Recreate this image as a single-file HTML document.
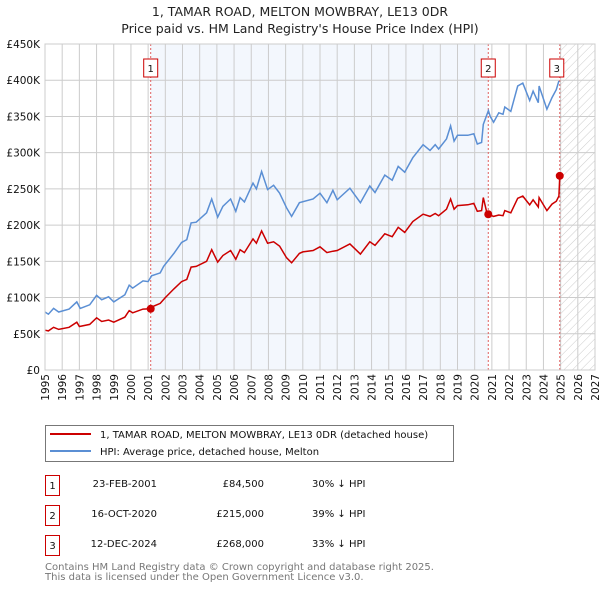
<!DOCTYPE html>
<html><head><meta charset="utf-8"><style>
body{margin:0;background:#fff;font-family:"DejaVu Sans","Liberation Sans",sans-serif;}
svg text{font-family:"DejaVu Sans","Liberation Sans",sans-serif;}
</style></head><body>
<svg id="chart" width="600" height="590" xmlns="http://www.w3.org/2000/svg">
<defs><pattern id="hatch" width="6" height="6" patternUnits="userSpaceOnUse" patternTransform="rotate(45)"><line x1="0" y1="0" x2="0" y2="6" stroke="#ccc" stroke-width="1"/></pattern></defs>
<text x="300" y="16" text-anchor="middle" font-size="12.5" fill="#222">1, TAMAR ROAD, MELTON MOWBRAY, LE13 0DR</text>
<text x="300" y="33" text-anchor="middle" font-size="12.5" fill="#222">Price paid vs. HM Land Registry's House Price Index (HPI)</text>
<g id="plot"></g>
<g>
<rect x="45.5" y="425.5" width="408" height="36" fill="#fff" stroke="#777"/>
<line x1="50" y1="434" x2="91" y2="434" stroke="#cc0000" stroke-width="2"/>
<text x="100" y="438" font-size="10" fill="#111">1, TAMAR ROAD, MELTON MOWBRAY, LE13 0DR (detached house)</text>
<line x1="50" y1="451" x2="91" y2="451" stroke="#5b8fd4" stroke-width="2"/>
<text x="100" y="455" font-size="10" fill="#111">HPI: Average price, detached house, Melton</text>
</g>
<g font-size="10" fill="#111">
<rect x="45.5" y="475.5" width="14" height="20" fill="none" stroke="#cc0000"/><text x="52.5" y="489" text-anchor="middle">1</text>
<text x="157" y="487" text-anchor="end">23-FEB-2001</text><text x="264" y="487" text-anchor="end">£84,500</text><text x="312" y="487">30% ↓ HPI</text>
<rect x="45.5" y="505.5" width="14" height="20" fill="none" stroke="#cc0000"/><text x="52.5" y="519" text-anchor="middle">2</text>
<text x="157" y="517" text-anchor="end">16-OCT-2020</text><text x="264" y="517" text-anchor="end">£215,000</text><text x="312" y="517">39% ↓ HPI</text>
<rect x="45.5" y="535.5" width="14" height="20" fill="none" stroke="#cc0000"/><text x="52.5" y="549" text-anchor="middle">3</text>
<text x="157" y="547" text-anchor="end">12-DEC-2024</text><text x="264" y="547" text-anchor="end">£268,000</text><text x="312" y="547">33% ↓ HPI</text>
</g>
<text x="45" y="570" font-size="10" fill="#777">Contains HM Land Registry data © Crown copyright and database right 2025.</text>
<text x="45" y="580" font-size="10" fill="#777">This data is licensed under the Open Government Licence v3.0.</text>
</svg>
<script>
const hpiYears=[1995.0,1995.2,1995.5,1995.8,1996.4,1996.85,1997.05,1997.6,1998.0,1998.3,1998.7,1999.0,1999.65,1999.9,2000.1,2000.7,2001.0,2001.2,2001.7,2001.9,2002.5,2002.95,2003.25,2003.5,2003.8,2004.4,2004.7,2005.05,2005.35,2005.8,2006.1,2006.35,2006.6,2007.1,2007.3,2007.6,2007.95,2008.3,2008.65,2009.05,2009.35,2009.8,2010.6,2011.0,2011.4,2011.75,2012.0,2012.74,2013.35,2013.9,2014.2,2014.77,2015.2,2015.55,2015.93,2016.4,2017.0,2017.4,2017.7,2017.9,2018.36,2018.6,2018.8,2019.0,2019.6,2019.95,2020.15,2020.4,2020.5,2020.8,2020.9,2021.1,2021.4,2021.65,2021.75,2022.1,2022.5,2022.8,2023.2,2023.4,2023.7,2023.75,2024.2,2024.5,2024.75,2024.9];
const hpiValues=[80,77,85,80,84,94,85,90,103,97,101,94,104,117,113,123,122,130,134,143,161,176,180,203,204,217,236,211,226,236,219,238,232,258,250,274,249,255,244,224,212,231,236,244,231,248,235,251,231,254,245,269,262,281,273,293,311,303,311,305,319,337,316,324,324,326,312,314,339,358,350,342,355,353,363,357,392,396,372,385,369,392,360,376,387,399];
const paidYears=[1995.0,1995.2,1995.5,1995.8,1996.4,1996.85,1997.0,1997.6,1998.0,1998.3,1998.7,1999.0,1999.65,1999.9,2000.1,2000.7,2001.15,2001.2,2001.7,2002.0,2002.5,2002.95,2003.25,2003.5,2003.8,2004.4,2004.7,2005.05,2005.35,2005.8,2006.1,2006.35,2006.6,2007.1,2007.3,2007.6,2007.95,2008.3,2008.65,2009.05,2009.35,2009.8,2010.0,2010.6,2011.0,2011.4,2011.75,2012.0,2012.74,2013.35,2013.9,2014.2,2014.77,2015.2,2015.55,2015.93,2016.4,2017.0,2017.4,2017.7,2017.9,2018.36,2018.6,2018.8,2019.0,2019.6,2019.95,2020.15,2020.4,2020.5,2020.7,2020.8,2021.1,2021.4,2021.65,2021.75,2022.1,2022.5,2022.8,2023.2,2023.4,2023.7,2023.75,2024.2,2024.5,2024.75,2024.9,2024.95];
const paidValues=[55,54,59,56,59,66,60,63,72,67,69,66,73,82,79,84,84.5,87,92,100,112,122,125,142,143,150,166,149,158,165,153,166,162,181,175,192,175,177,171,155,148,161,163,165,170,162,164,165,174,160,177,172,188,184,197,190,205,215,212,216,213,222,236,222,227,228,230,219,220,238,218,215,212,214,213,220,217,237,240,228,235,225,238,220,229,233,240,268];
const saleYears=[2001.15,2020.79,2024.95];
const saleValues=[84.5,215,268];
const saleLabels=["1","2","3"];
const yTicks=[0,50,100,150,200,250,300,350,400,450];
const yTickLabels=["£0","£50K","£100K","£150K","£200K","£250K","£300K","£350K","£400K","£450K"];
const xTicks=[1995,1996,1997,1998,1999,2000,2001,2002,2003,2004,2005,2006,2007,2008,2009,2010,2011,2012,2013,2014,2015,2016,2017,2018,2019,2020,2021,2022,2023,2024,2025,2026,2027];

const NS="http://www.w3.org/2000/svg";
const L=45,R=595,T=44,B=370;
const x=y=>L+(y-1995)/(2027-1995)*(R-L);
const y=v=>B-v/450*(B-T);
const g=document.getElementById('plot');
function mk(tag,attrs,parent){const e=document.createElementNS(NS,tag);for(const k in attrs)e.setAttribute(k,attrs[k]);(parent||g).appendChild(e);return e;}
let e;
e=mk('rect',{x:x(saleYears[0]),y:T,width:x(saleYears[1])-x(saleYears[0]),height:B-T,fill:'#eef3fc',opacity:0.7});


e=mk('rect',{x:x(2025),y:T,width:R-x(2025),height:B-T,fill:'url(#hatch)'});


xTicks.forEach(t=>{
 e=mk('line',{x1:x(t),x2:x(t),y1:T,y2:B,stroke:'#cccccc','stroke-width':1});
 
 
 e=mk('text',{transform:`translate(${x(t)+4},${B+4}) rotate(-90)`,'text-anchor':'end','font-size':10.5,fill:'#111'});
 e.textContent=t;
 
 
});
yTicks.forEach((t,i)=>{
 e=mk('line',{x1:L,x2:R,y1:y(t),y2:y(t),stroke:'#cccccc','stroke-width':1});
 
 
 e=mk('text',{x:L-5,y:y(t)+4,'text-anchor':'end','font-size':10.5,fill:'#111'});
 e.textContent=yTickLabels[i];
 
 
});
saleYears.forEach((s,i)=>{
 e=mk('line',{x1:x(s),x2:x(s),y1:T,y2:B,stroke:'#e06060','stroke-width':1,'stroke-dasharray':'2,2'});
 
 
 const bx=x(s)-(i==2?3:0);
 e=mk('rect',{x:bx-7,y:59,width:14,height:18,fill:'#fff',stroke:'#cc0000'});
 
 
 e=mk('text',{x:bx,y:72,'text-anchor':'middle','font-size':10,fill:'#111'});
 e.textContent=saleLabels[i];
 
 
});
const pts=(xs,vs)=>xs.map((t,i)=>x(t).toFixed(1)+','+y(vs[i]).toFixed(1)).join(' ');
e=mk('polyline',{points:pts(hpiYears,hpiValues),fill:'none',stroke:'#5b8fd4','stroke-width':1.5});


e=mk('polyline',{points:pts(paidYears,paidValues),fill:'none',stroke:'#cc0000','stroke-width':1.5});


saleYears.forEach((s,i)=>{
 e=mk('circle',{cx:x(s),cy:y(saleValues[i]),r:4,fill:'#cc0000'});
 
 
});
e=mk('rect',{x:L,y:T,width:R-L,height:B-T,fill:'none',stroke:'#cccccc'});


</script>
</body></html>
